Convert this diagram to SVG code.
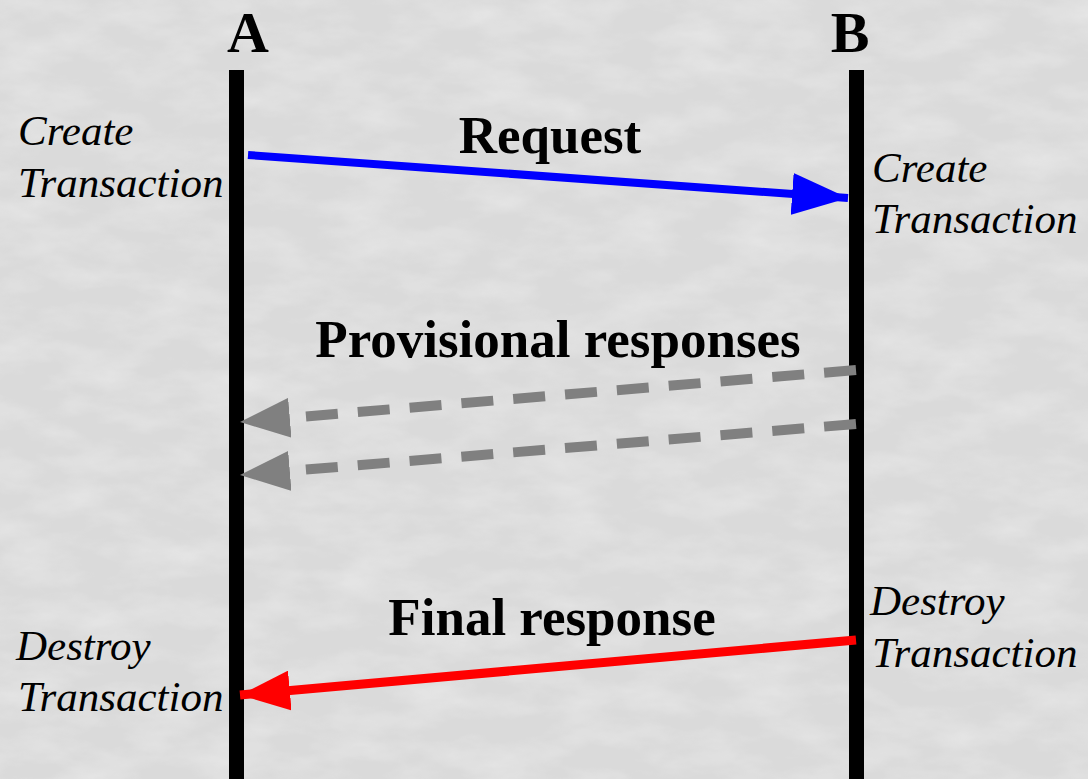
<svg xmlns="http://www.w3.org/2000/svg" width="1088" height="779" viewBox="0 0 1088 779">
  <style>
    .head { font-family: "Liberation Serif", "Times New Roman", serif; font-weight: bold; font-size: 58px; fill: #000; text-anchor: middle; }
    .msg { font-family: "Liberation Serif", "Times New Roman", serif; font-weight: bold; font-size: 53px; fill: #000; text-anchor: middle; }
    .note { font-family: "Liberation Serif", "Times New Roman", serif; font-style: italic; font-size: 43px; fill: #000; }
    .life { fill: #000; }
  </style>
  <defs>
    <filter id="marble" x="0" y="0" width="100%" height="100%">
      <feTurbulence type="fractalNoise" baseFrequency="0.015 0.035" numOctaves="4" seed="7" result="n"/>
      <feColorMatrix in="n" type="matrix" values="0 0 0 0 1  0 0 0 0 1  0 0 0 0 1  1.1 0 0 0 -0.4"/>
    </filter>
    <marker id="ahBlue" viewBox="0 0 56 42" refX="56" refY="21" markerWidth="56" markerHeight="42" markerUnits="userSpaceOnUse" orient="auto">
      <path d="M0,0 L56,21 L0,42 Z" fill="#0000ff"/>
    </marker>
    <marker id="ahGrey" viewBox="0 0 50 40" refX="50" refY="20" markerWidth="50" markerHeight="40" markerUnits="userSpaceOnUse" orient="auto">
      <path d="M0,0 L50,20 L0,40 Z" fill="#808080"/>
    </marker>
    <marker id="ahRed" viewBox="0 0 50 40" refX="50" refY="20" markerWidth="50" markerHeight="40" markerUnits="userSpaceOnUse" orient="auto">
      <path d="M0,0 L50,20 L0,40 Z" fill="#ff0000"/>
    </marker>
  </defs>

  <!-- background -->
  <rect width="1088" height="779" fill="#dadada"/>
  <rect width="1088" height="779" filter="url(#marble)" opacity="0.5"/>

  <!-- lifeline A -->
  <g id="node-A">
    <text class="head" x="248" y="52">A</text>
    <rect class="life" x="229" y="70" width="15" height="709"/>
    <text class="note" x="18" y="145">Create</text>
    <text class="note" x="18" y="197">Transaction</text>
    <text class="note" x="16" y="660">Destroy</text>
    <text class="note" x="18" y="711">Transaction</text>
  </g>

  <!-- lifeline B -->
  <g id="node-B">
    <text class="head" x="850" y="52">B</text>
    <rect class="life" x="849" y="70" width="15" height="709"/>
    <text class="note" x="872" y="182">Create</text>
    <text class="note" x="872" y="233">Transaction</text>
    <text class="note" x="870" y="615">Destroy</text>
    <text class="note" x="872" y="667">Transaction</text>
  </g>

  <!-- messages -->
  <g id="connectors">
    <line x1="248" y1="155" x2="848" y2="198" stroke="#0000ff" stroke-width="8" marker-end="url(#ahBlue)"/>
    <line x1="856" y1="370" x2="240" y2="422" stroke="#808080" stroke-width="10" stroke-dasharray="32 20" marker-end="url(#ahGrey)"/>
    <line x1="856" y1="424" x2="240" y2="475" stroke="#808080" stroke-width="10" stroke-dasharray="32 20" marker-end="url(#ahGrey)"/>
    <line x1="856" y1="640" x2="240" y2="695" stroke="#ff0000" stroke-width="9" marker-end="url(#ahRed)"/>
    <text class="msg" x="550" y="153">Request</text>
    <text class="msg" x="558" y="357">Provisional responses</text>
    <text class="msg" x="552" y="635">Final response</text>
  </g>
</svg>
